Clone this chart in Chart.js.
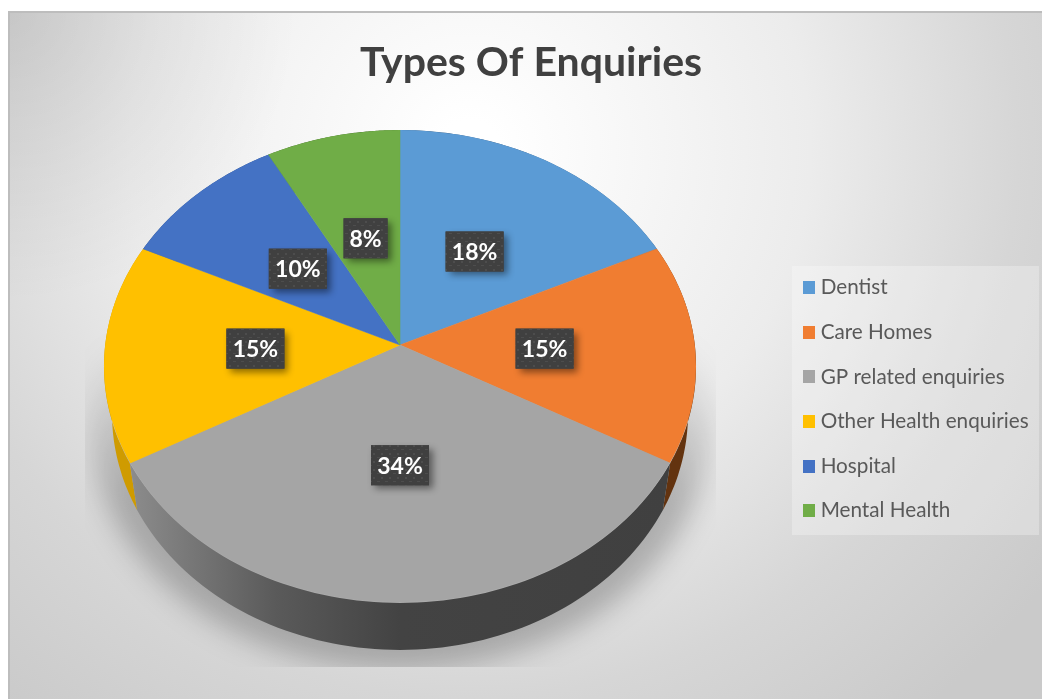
<!DOCTYPE html>
<html><head><meta charset="utf-8">
<style>html,body{margin:0;padding:0;background:#fff}canvas{display:block}</style>
<script src="https://cdn.jsdelivr.net/npm/chart.js@4/dist/chart.umd.min.js"></script>
</head><body><canvas id="c" width="1042" height="699"></canvas>
<script>
const categories = ['Dentist','Care Homes','GP related enquiries','Other Health enquiries','Hospital','Mental Health'];
const percentages = [18,15,34,15,10,8];
const colours = ['#5B9BD5','#F07D31','#A5A5A5','#FFC000','#4472C4','#70AD47'];
const wallColours = ['#3d5f80','#63330f','#444444','#cf9b00','#2b4778','#446a2b'];

const APEX = {x:400,y:345}, A = 294.8, B = 234.5, K = 0.0909;
const DISC = {cx:400,cy:366,rx:296,ry:236};
const FLOOR = {apexY:392,a:286.8,b:234.5};
const proj = (t,f=1,ay=APEX.y,a=A,b=B) => {
  const d = 1+K*f*Math.cos(t);
  return {x:APEX.x+a*f*Math.sin(t)/d, y:ay-b*f*Math.cos(t)/d};
};
const makeSwatch = c => {
  const s = document.createElement('canvas'); s.width = 12; s.height = 13;
  const g = s.getContext('2d'); g.fillStyle = c; g.fillRect(0,0,12,13); return s;
};
const makePattern = ctx => {
  const s = document.createElement('canvas'); s.width = 8; s.height = 8;
  const g = s.getContext('2d'); g.fillStyle = '#404040'; g.fillRect(0,0,8,8);
  g.fillStyle = '#4d4d4d'; g.fillRect(1,1,3,1); g.fillRect(5,5,2,2);
  return ctx.createPattern(s,'repeat');
};

const frame = {
  id:'frame',
  afterLayout(chart){
    const l = chart.legend;
    l.left = 784.4; l.top = 253.4; l.right = l.left+l.width; l.bottom = l.top+l.height+30;
  },
  beforeDraw(chart){
    const c = chart.ctx;
    c.save();
    c.fillStyle = '#fff'; c.fillRect(0,0,1042,699);
    const g = c.createRadialGradient(470,150,30,470,150,720);
    g.addColorStop(0,'#ffffff'); g.addColorStop(.45,'#ececec'); g.addColorStop(.75,'#d6d6d6'); g.addColorStop(1,'#cacaca');
    c.fillStyle = g; c.fillRect(8,12,1034,687);
    const k = c.createRadialGradient(8,12,0,8,12,290);
    k.addColorStop(0,'rgba(0,0,0,.1)'); k.addColorStop(1,'rgba(0,0,0,0)');
    c.fillStyle = k; c.fillRect(8,12,300,300);
    c.fillStyle = '#bdbdbd'; c.fillRect(8,11,1034,2); c.fillRect(8,12,2,687);
    c.fillStyle = 'rgba(255,255,255,.28)'; c.fillRect(792,266,247,269);
    // soft floor shadow
    c.beginPath(); c.rect(85,300,631,367); c.clip();
    const s = c.createLinearGradient(0,340,0,500);
    s.addColorStop(0,'rgba(0,0,0,0)'); s.addColorStop(1,'rgba(0,0,0,.24)');
    c.filter = 'blur(14px)'; c.fillStyle = s;
    c.beginPath(); c.ellipse(400,425,309,245,0,0,Math.PI*2); c.fill();
    c.restore();
  },
  beforeDatasetDraw(chart){
    const c = chart.ctx, arcs = chart.getDatasetMeta(0).data;
    const order = [3,0,5,4,1,2];
    // side wall
    order.forEach(i=>{
      const arc = arcs[i];
      const t0 = arc.startAngle+Math.PI/2, t1 = arc.endAngle+Math.PI/2, n = 80;
      c.save(); c.beginPath();
      for(let j=0;j<=n;j++){const p=proj(t0+(t1-t0)*j/n); j?c.lineTo(p.x,p.y):c.moveTo(p.x,p.y);}
      for(let j=n;j>=0;j--){const p=proj(t0+(t1-t0)*j/n,1,FLOOR.apexY,FLOOR.a,FLOOR.b); c.lineTo(p.x,p.y);}
      c.closePath();
      if(i===2){
        const g = c.createLinearGradient(130,0,670,0);
        g.addColorStop(0,'#8c8c8c'); g.addColorStop(.27,'#5a5a5a'); g.addColorStop(.5,'#434343'); g.addColorStop(1,'#404040');
        c.fillStyle = g;
      } else c.fillStyle = wallColours[i];
      c.fill(); c.restore();
    });
    // top face: each library arc mapped onto the tilted disc
    arcs.forEach(arc=>{
      const t0 = arc.startAngle+Math.PI/2, t1 = arc.endAngle+Math.PI/2, r = arc.outerRadius;
      const v1 = [r*Math.sin(t0),-r*Math.cos(t0)], v2 = [r*Math.sin(t1),-r*Math.cos(t1)];
      const p1 = proj(t0), p2 = proj(t1), e = 1.3;
      const w1 = [(p1.x-APEX.x)*e,(p1.y-APEX.y)*e], w2 = [(p2.x-APEX.x)*e,(p2.y-APEX.y)*e];
      const det = v1[0]*v2[1]-v2[0]*v1[1];
      const a = (w1[0]*v2[1]-w2[0]*v1[1])/det, m = (w2[0]*v1[0]-w1[0]*v2[0])/det;
      const b = (w1[1]*v2[1]-w2[1]*v1[1])/det, d = (w2[1]*v1[0]-w1[1]*v2[0])/det;
      c.save();
      c.beginPath(); c.ellipse(DISC.cx,DISC.cy,DISC.rx,DISC.ry,0,0,Math.PI*2); c.clip();
      c.transform(a,b,m,d,APEX.x-a*arc.x-m*arc.y,APEX.y-b*arc.x-d*arc.y);
      arc.draw(c);
      c.restore();
    });
    return false;
  },
  afterDraw(chart){
    const c = chart.ctx, arcs = chart.getDatasetMeta(0).data;
    const pat = makePattern(c);
    c.save();
    c.font = 'bold 23px Lato'; c.textAlign = 'center'; c.textBaseline = 'middle';
    arcs.forEach((arc,i)=>{
      const mid = (arc.startAngle+arc.endAngle)/2+Math.PI/2;
      const p = proj(mid,.49), label = percentages[i]+'%';
      const w = Math.round(c.measureText(label).width)+12, h = 40;
      c.save();
      c.shadowColor = 'rgba(0,0,0,.45)'; c.shadowBlur = 7; c.shadowOffsetX = 4; c.shadowOffsetY = 4;
      c.fillStyle = '#404040'; c.fillRect(p.x-w/2,p.y-h/2,w,h);
      c.restore();
      c.fillStyle = pat; c.fillRect(p.x-w/2,p.y-h/2,w,h);
      c.fillStyle = '#fff'; c.fillText(label,p.x,p.y+1);
    });
    c.restore();
  }
};

new Chart(document.getElementById('c'),{
  type:'pie',
  data:{labels:categories,datasets:[{data:percentages,backgroundColor:colours,borderColor:colours,borderWidth:.5}]},
  plugins:[frame],
  options:{
    responsive:false,animation:false,
    layout:{padding:{left:20}},
    plugins:{
      tooltip:{enabled:false},
      title:{display:true,text:'Types Of Enquiries',color:'#404040',
        font:{family:'Lato',size:41,weight:'bold'},padding:{top:38,bottom:10}},
      legend:{display:true,position:'right',align:'start',
        labels:{color:'#595959',font:{family:'Lato',size:20.7},padding:23.9,boxWidth:2,boxHeight:13,
          usePointStyle:true,pointStyleWidth:2,
          generateLabels(chart){
            return Chart.overrides.pie.plugins.legend.labels.generateLabels(chart)
              .map((it,i)=>({...it,pointStyle:makeSwatch(colours[i])}));
          }}}
    }
  }
});
</script></body></html>
